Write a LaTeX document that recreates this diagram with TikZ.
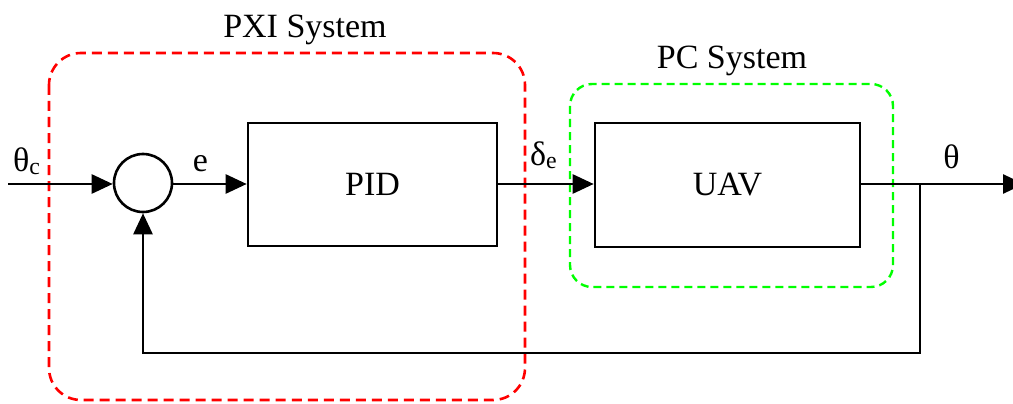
\documentclass[tikz,border=0pt]{standalone}
\usepackage{fontspec}
\setmainfont{Liberation Serif}
\usetikzlibrary{arrows.meta}
\tikzset{blockbox/.style={draw, line width=2.6pt, inner sep=0pt},
  sumnode/.style={draw, circle, line width=2.6pt, minimum size=58pt, inner sep=0pt},
  sig/.style={line width=2.6pt},
  pxibox/.style={draw=red, line width=2.6pt, dash pattern=on 10pt off 6pt, rounded corners=32pt},
  pcbox/.style={draw=green, line width=2.4pt, dash pattern=on 8pt off 5pt, rounded corners=22pt},
  lbl/.style={anchor=base, inner sep=0pt}}

\begin{document}
\begin{tikzpicture}[x=1pt, y=-1pt, font=\fontsize{34}{38}\selectfont,
    >={Triangle[length=21pt, width=19pt]}]
      \useasboundingbox (0,0) rectangle (1013,404);

      \draw [pxibox] (49,53) rectangle (525,400);
      \draw [pcbox] (570,84) rectangle (893,287);
      \node [lbl] (pxi) at (305,38) {PXI System};
      \node [lbl] (pc) at (732,69) {PC System};

      \node [sumnode] (sum) at (143,183) {};
      \node [blockbox, minimum width=249pt, minimum height=123pt] (pid) at (372.5,184.5) {PID};
      \node [blockbox, minimum width=265pt, minimum height=124pt] (uav) at (727.5,185) {UAV};

      \coordinate (in) at (8,184);
      \coordinate (out) at (1024,184);
      \coordinate (br) at (920,184);
      \coordinate (fb) at (143,353);

      \draw [sig, ->] (in) -- (sum.west |- in);
      \draw [sig, ->] (sum.east |- in) -- (pid.west |- in);
      \draw [sig, ->] (pid.east |- in) -- (uav.west |- in);
      \draw [sig, ->] (uav.east |- in) -- (out);
      \draw [sig, ->, line join=miter] (br) |- (fb) -- (sum.south);

      \node [lbl, anchor=base west] (thc) at (13,171) {θ\textsubscript{c}};
      \node [lbl] (err) at (200.5,171) {e};
      \node [lbl, anchor=base west] (de) at (530,165) {δ\textsubscript{e}};
      \node [lbl] (th) at (951.5,168) {θ};
    \end{tikzpicture}
\end{document}
